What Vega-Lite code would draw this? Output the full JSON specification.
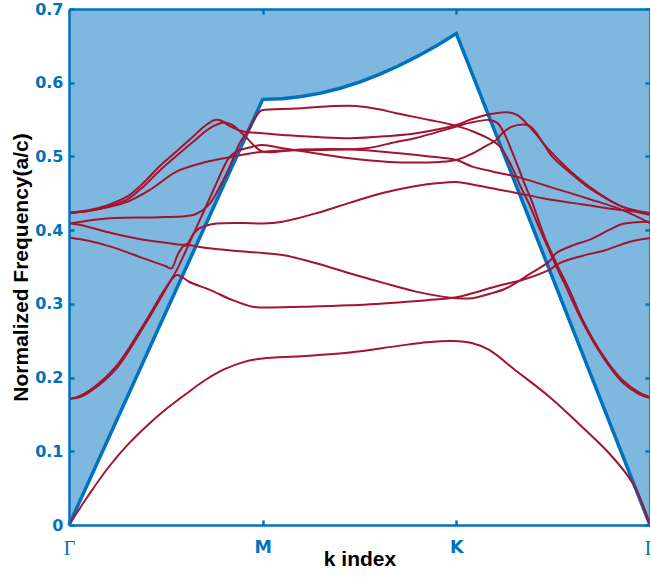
{
  "$schema": "https://vega.github.io/schema/vega-lite/v6.json",
  "width": 581,
  "height": 516,
  "autosize": {"type": "none"},
  "padding": {"left": 69, "top": 9, "right": 0, "bottom": 52},
  "background": "white",
  "config": {"view": {"stroke": null}},
  "datasets": {
    "lightline": [
      {"k": 0, "freq": 0}, {"k": 1, "freq": 0.5774}, {"k": 1.1, "freq": 0.5783}, {"k": 1.2, "freq": 0.5812},
      {"k": 1.3, "freq": 0.5859}, {"k": 1.4, "freq": 0.5925}, {"k": 1.5, "freq": 0.6009}, {"k": 1.6, "freq": 0.611},
      {"k": 1.7, "freq": 0.6227}, {"k": 1.8, "freq": 0.636}, {"k": 1.9, "freq": 0.6506}, {"k": 2, "freq": 0.6667},
      {"k": 3, "freq": 0}
    ],
    "bands": [
      {"band": "A", "k": 0, "freq": 0}, {"band": "A", "k": 0.1, "freq": 0.04}, {"band": "A", "k": 0.2, "freq": 0.077}, {"band": "A", "k": 0.3, "freq": 0.108}, {"band": "A", "k": 0.4, "freq": 0.134}, {"band": "A", "k": 0.5, "freq": 0.157}, {"band": "A", "k": 0.6, "freq": 0.177}, {"band": "A", "k": 0.7, "freq": 0.196}, {"band": "A", "k": 0.8, "freq": 0.211}, {"band": "A", "k": 0.9, "freq": 0.221}, {"band": "A", "k": 1, "freq": 0.226}, {"band": "A", "k": 1.2, "freq": 0.229}, {"band": "A", "k": 1.45, "freq": 0.234}, {"band": "A", "k": 1.7, "freq": 0.243}, {"band": "A", "k": 1.85, "freq": 0.248}, {"band": "A", "k": 1.98, "freq": 0.2497}, {"band": "A", "k": 2.08, "freq": 0.247}, {"band": "A", "k": 2.17, "freq": 0.2375}, {"band": "A", "k": 2.3, "freq": 0.211}, {"band": "A", "k": 2.48, "freq": 0.174}, {"band": "A", "k": 2.65, "freq": 0.133}, {"band": "A", "k": 2.79, "freq": 0.097}, {"band": "A", "k": 2.91, "freq": 0.057}, {"band": "A", "k": 3, "freq": 0},

      {"band": "B", "k": 0, "freq": 0.171}, {"band": "B", "k": 0.06, "freq": 0.174}, {"band": "B", "k": 0.125, "freq": 0.184}, {"band": "B", "k": 0.247, "freq": 0.213}, {"band": "B", "k": 0.383, "freq": 0.268}, {"band": "B", "k": 0.485, "freq": 0.313}, {"band": "B", "k": 0.53, "freq": 0.333}, {"band": "B", "k": 0.555, "freq": 0.339}, {"band": "B", "k": 0.58, "freq": 0.337}, {"band": "B", "k": 0.62, "freq": 0.33}, {"band": "B", "k": 0.727, "freq": 0.319}, {"band": "B", "k": 0.845, "freq": 0.305}, {"band": "B", "k": 0.948, "freq": 0.296}, {"band": "B", "k": 1, "freq": 0.295}, {"band": "B", "k": 1.2, "freq": 0.296}, {"band": "B", "k": 1.448, "freq": 0.298}, {"band": "B", "k": 1.7, "freq": 0.302}, {"band": "B", "k": 1.85, "freq": 0.305}, {"band": "B", "k": 2, "freq": 0.309}, {"band": "B", "k": 2.082, "freq": 0.3144}, {"band": "B", "k": 2.222, "freq": 0.325}, {"band": "B", "k": 2.34, "freq": 0.3324}, {"band": "B", "k": 2.479, "freq": 0.346}, {"band": "B", "k": 2.531, "freq": 0.355}, {"band": "B", "k": 2.649, "freq": 0.365}, {"band": "B", "k": 2.773, "freq": 0.3731}, {"band": "B", "k": 2.892, "freq": 0.384}, {"band": "B", "k": 3, "freq": 0.3894},

      {"band": "C", "k": 0, "freq": 0.39}, {"band": "C", "k": 0.1, "freq": 0.3855}, {"band": "C", "k": 0.211, "freq": 0.378}, {"band": "C", "k": 0.383, "freq": 0.362}, {"band": "C", "k": 0.5, "freq": 0.351}, {"band": "C", "k": 0.529, "freq": 0.348}, {"band": "C", "k": 0.56, "freq": 0.366}, {"band": "C", "k": 0.59, "freq": 0.378}, {"band": "C", "k": 0.62, "freq": 0.3795}, {"band": "C", "k": 0.7, "freq": 0.376}, {"band": "C", "k": 0.85, "freq": 0.372}, {"band": "C", "k": 1, "freq": 0.369}, {"band": "C", "k": 1.103, "freq": 0.3663}, {"band": "C", "k": 1.277, "freq": 0.3551}, {"band": "C", "k": 1.448, "freq": 0.3415}, {"band": "C", "k": 1.619, "freq": 0.3288}, {"band": "C", "k": 1.792, "freq": 0.3166}, {"band": "C", "k": 1.928, "freq": 0.3098}, {"band": "C", "k": 2, "freq": 0.3076}, {"band": "C", "k": 2.082, "freq": 0.3076}, {"band": "C", "k": 2.17, "freq": 0.3134}, {"band": "C", "k": 2.258, "freq": 0.3212}, {"band": "C", "k": 2.376, "freq": 0.3399}, {"band": "C", "k": 2.479, "freq": 0.3573}, {"band": "C", "k": 2.515, "freq": 0.3687}, {"band": "C", "k": 2.608, "freq": 0.38}, {"band": "C", "k": 2.686, "freq": 0.3867}, {"band": "C", "k": 2.789, "freq": 0.4003}, {"band": "C", "k": 2.856, "freq": 0.4084}, {"band": "C", "k": 3, "freq": 0.4115},

      {"band": "D", "k": 0, "freq": 0.409}, {"band": "D", "k": 0.06, "freq": 0.407}, {"band": "D", "k": 0.125, "freq": 0.4026}, {"band": "D", "k": 0.25, "freq": 0.394}, {"band": "D", "k": 0.383, "freq": 0.387}, {"band": "D", "k": 0.5, "freq": 0.383}, {"band": "D", "k": 0.607, "freq": 0.381}, {"band": "D", "k": 0.64, "freq": 0.394}, {"band": "D", "k": 0.67, "freq": 0.402}, {"band": "D", "k": 0.7, "freq": 0.4055}, {"band": "D", "k": 0.761, "freq": 0.409}, {"band": "D", "k": 0.9, "freq": 0.4098}, {"band": "D", "k": 1, "freq": 0.409}, {"band": "D", "k": 1.103, "freq": 0.4115}, {"band": "D", "k": 1.277, "freq": 0.4229}, {"band": "D", "k": 1.448, "freq": 0.437}, {"band": "D", "k": 1.619, "freq": 0.4505}, {"band": "D", "k": 1.792, "freq": 0.46}, {"band": "D", "k": 1.912, "freq": 0.464}, {"band": "D", "k": 2, "freq": 0.4654}, {"band": "D", "k": 2.082, "freq": 0.462}, {"band": "D", "k": 2.309, "freq": 0.4505}, {"band": "D", "k": 2.454, "freq": 0.443}, {"band": "D", "k": 2.598, "freq": 0.437}, {"band": "D", "k": 2.789, "freq": 0.4294}, {"band": "D", "k": 3, "freq": 0.4233},

      {"band": "E", "k": 0, "freq": 0.409}, {"band": "E", "k": 0.211, "freq": 0.4162}, {"band": "E", "k": 0.469, "freq": 0.4175}, {"band": "E", "k": 0.6, "freq": 0.419}, {"band": "E", "k": 0.641, "freq": 0.4206}, {"band": "E", "k": 0.67, "freq": 0.424}, {"band": "E", "k": 0.692, "freq": 0.4274}, {"band": "E", "k": 0.73, "freq": 0.437}, {"band": "E", "k": 0.761, "freq": 0.45}, {"band": "E", "k": 0.8, "freq": 0.47}, {"band": "E", "k": 0.83, "freq": 0.4862}, {"band": "E", "k": 0.881, "freq": 0.5179}, {"band": "E", "k": 0.916, "freq": 0.5315}, {"band": "E", "k": 0.95, "freq": 0.547}, {"band": "E", "k": 0.985, "freq": 0.561}, {"band": "E", "k": 1, "freq": 0.563}, {"band": "E", "k": 1.174, "freq": 0.565}, {"band": "E", "k": 1.345, "freq": 0.568}, {"band": "E", "k": 1.483, "freq": 0.5685}, {"band": "E", "k": 1.6, "freq": 0.564}, {"band": "E", "k": 1.689, "freq": 0.5586}, {"band": "E", "k": 1.861, "freq": 0.5495}, {"band": "E", "k": 2, "freq": 0.5414}, {"band": "E", "k": 2.093, "freq": 0.5332}, {"band": "E", "k": 2.17, "freq": 0.5237}, {"band": "E", "k": 2.222, "freq": 0.5142}, {"band": "E", "k": 2.263, "freq": 0.498}, {"band": "E", "k": 2.299, "freq": 0.479}, {"band": "E", "k": 2.335, "freq": 0.4573}, {"band": "E", "k": 2.376, "freq": 0.4355}, {"band": "E", "k": 2.428, "freq": 0.403}, {"band": "E", "k": 2.479, "freq": 0.3731}, {"band": "E", "k": 2.515, "freq": 0.3514}, {"band": "E", "k": 2.557, "freq": 0.3284}, {"band": "E", "k": 2.649, "freq": 0.2768}, {"band": "E", "k": 2.753, "freq": 0.2293}, {"band": "E", "k": 2.856, "freq": 0.194}, {"band": "E", "k": 2.943, "freq": 0.1777}, {"band": "E", "k": 3, "freq": 0.1723},

      {"band": "F", "k": 0, "freq": 0.4237}, {"band": "F", "k": 0.1, "freq": 0.427}, {"band": "F", "k": 0.2, "freq": 0.434}, {"band": "F", "k": 0.297, "freq": 0.445}, {"band": "F", "k": 0.38, "freq": 0.463}, {"band": "F", "k": 0.469, "freq": 0.487}, {"band": "F", "k": 0.56, "freq": 0.508}, {"band": "F", "k": 0.641, "freq": 0.527}, {"band": "F", "k": 0.7, "freq": 0.541}, {"band": "F", "k": 0.753, "freq": 0.5495}, {"band": "F", "k": 0.79, "freq": 0.548}, {"band": "F", "k": 0.83, "freq": 0.541}, {"band": "F", "k": 0.899, "freq": 0.5337}, {"band": "F", "k": 1, "freq": 0.5315}, {"band": "F", "k": 1.103, "freq": 0.5292}, {"band": "F", "k": 1.448, "freq": 0.5247}, {"band": "F", "k": 1.655, "freq": 0.5278}, {"band": "F", "k": 1.792, "freq": 0.5315}, {"band": "F", "k": 2, "freq": 0.5427}, {"band": "F", "k": 2.067, "freq": 0.5495}, {"band": "F", "k": 2.155, "freq": 0.5563}, {"band": "F", "k": 2.258, "freq": 0.56}, {"band": "F", "k": 2.314, "freq": 0.5563}, {"band": "F", "k": 2.402, "freq": 0.5332}, {"band": "F", "k": 2.479, "freq": 0.5088}, {"band": "F", "k": 2.582, "freq": 0.4817}, {"band": "F", "k": 2.686, "freq": 0.459}, {"band": "F", "k": 2.789, "freq": 0.441}, {"band": "F", "k": 2.856, "freq": 0.4319}, {"band": "F", "k": 3, "freq": 0.4229},

      {"band": "G", "k": 0, "freq": 0.171}, {"band": "G", "k": 0.06, "freq": 0.1755}, {"band": "G", "k": 0.125, "freq": 0.186}, {"band": "G", "k": 0.247, "freq": 0.2165}, {"band": "G", "k": 0.383, "freq": 0.271}, {"band": "G", "k": 0.485, "freq": 0.316}, {"band": "G", "k": 0.546, "freq": 0.341}, {"band": "G", "k": 0.6, "freq": 0.37}, {"band": "G", "k": 0.65, "freq": 0.399}, {"band": "G", "k": 0.7, "freq": 0.428}, {"band": "G", "k": 0.75, "freq": 0.457}, {"band": "G", "k": 0.8, "freq": 0.486}, {"band": "G", "k": 0.825, "freq": 0.498}, {"band": "G", "k": 0.86, "freq": 0.506}, {"band": "G", "k": 0.93, "freq": 0.512}, {"band": "G", "k": 1, "freq": 0.5156}, {"band": "G", "k": 1.103, "freq": 0.5111}, {"band": "G", "k": 1.277, "freq": 0.5041}, {"band": "G", "k": 1.448, "freq": 0.4975}, {"band": "G", "k": 1.655, "freq": 0.4925}, {"band": "G", "k": 1.792, "freq": 0.4916}, {"band": "G", "k": 1.912, "freq": 0.4925}, {"band": "G", "k": 2, "freq": 0.4952}, {"band": "G", "k": 2.067, "freq": 0.502}, {"band": "G", "k": 2.144, "freq": 0.5129}, {"band": "G", "k": 2.206, "freq": 0.5224}, {"band": "G", "k": 2.237, "freq": 0.5315}, {"band": "G", "k": 2.284, "freq": 0.54}, {"band": "G", "k": 2.351, "freq": 0.5434}, {"band": "G", "k": 2.387, "freq": 0.54}, {"band": "G", "k": 2.454, "freq": 0.5156}, {"band": "G", "k": 2.495, "freq": 0.4997}, {"band": "G", "k": 2.608, "freq": 0.4735}, {"band": "G", "k": 2.701, "freq": 0.4545}, {"band": "G", "k": 2.876, "freq": 0.4297}, {"band": "G", "k": 3, "freq": 0.4206},

      {"band": "H", "k": 0, "freq": 0.4237}, {"band": "H", "k": 0.1, "freq": 0.426}, {"band": "H", "k": 0.2, "freq": 0.431}, {"band": "H", "k": 0.297, "freq": 0.438}, {"band": "H", "k": 0.42, "freq": 0.455}, {"band": "H", "k": 0.555, "freq": 0.4794}, {"band": "H", "k": 0.7, "freq": 0.492}, {"band": "H", "k": 0.845, "freq": 0.4997}, {"band": "H", "k": 1, "freq": 0.5065}, {"band": "H", "k": 1.277, "freq": 0.5088}, {"band": "H", "k": 1.535, "freq": 0.5111}, {"band": "H", "k": 1.689, "freq": 0.5197}, {"band": "H", "k": 1.792, "freq": 0.5251}, {"band": "H", "k": 2, "freq": 0.5404}, {"band": "H", "k": 2.067, "freq": 0.5455}, {"band": "H", "k": 2.17, "freq": 0.5495}, {"band": "H", "k": 2.211, "freq": 0.5455}, {"band": "H", "k": 2.247, "freq": 0.5315}, {"band": "H", "k": 2.284, "freq": 0.5088}, {"band": "H", "k": 2.325, "freq": 0.4817}, {"band": "H", "k": 2.361, "freq": 0.4573}, {"band": "H", "k": 2.387, "freq": 0.441}, {"band": "H", "k": 2.454, "freq": 0.392}, {"band": "H", "k": 2.515, "freq": 0.356}, {"band": "H", "k": 2.582, "freq": 0.32}, {"band": "H", "k": 2.649, "freq": 0.28}, {"band": "H", "k": 2.753, "freq": 0.232}, {"band": "H", "k": 2.856, "freq": 0.197}, {"band": "H", "k": 2.943, "freq": 0.18}, {"band": "H", "k": 3, "freq": 0.1737},

      {"band": "I", "k": 0, "freq": 0.423}, {"band": "I", "k": 0.1, "freq": 0.426}, {"band": "I", "k": 0.2, "freq": 0.432}, {"band": "I", "k": 0.297, "freq": 0.441}, {"band": "I", "k": 0.38, "freq": 0.458}, {"band": "I", "k": 0.469, "freq": 0.481}, {"band": "I", "k": 0.56, "freq": 0.502}, {"band": "I", "k": 0.641, "freq": 0.52}, {"band": "I", "k": 0.72, "freq": 0.537}, {"band": "I", "k": 0.78, "freq": 0.545}, {"band": "I", "k": 0.804, "freq": 0.546}, {"band": "I", "k": 0.84, "freq": 0.543}, {"band": "I", "k": 0.866, "freq": 0.538}, {"band": "I", "k": 0.918, "freq": 0.525}, {"band": "I", "k": 0.959, "freq": 0.514}, {"band": "I", "k": 1, "freq": 0.5065}, {"band": "I", "k": 1.191, "freq": 0.5095}, {"band": "I", "k": 1.448, "freq": 0.5098}, {"band": "I", "k": 1.706, "freq": 0.5043}, {"band": "I", "k": 1.861, "freq": 0.5}, {"band": "I", "k": 2, "freq": 0.4952}, {"band": "I", "k": 2.082, "freq": 0.4862}, {"band": "I", "k": 2.196, "freq": 0.479}, {"band": "I", "k": 2.309, "freq": 0.4726}, {"band": "I", "k": 2.479, "freq": 0.459}, {"band": "I", "k": 2.686, "freq": 0.4423}, {"band": "I", "k": 2.856, "freq": 0.4274}, {"band": "I", "k": 3, "freq": 0.4094}
    ]
  },
  "layer": [
    {
      "data": {"name": "lightline"},
      "mark": {"type": "area", "color": "#7FB8DE", "opacity": 1},
      "encoding": {
        "x": {
          "field": "k", "type": "quantitative",
          "scale": {"domain": [0, 3], "nice": false, "zero": false},
          "axis": {
            "orient": "bottom", "values": [0, 1, 2, 3],
            "labelExpr": "datum.value == 1 ? 'M' : datum.value == 2 ? 'K' : 'Γ'",
            "labelFlush": false, "labelOverlap": false, "grid": false, "zindex": 1,
            "domainColor": "#0072BD", "domainWidth": 2.5,
            "tickColor": "#0072BD", "tickWidth": 2.5, "tickSize": -5,
            "labelColor": "#0072BD", "labelPadding": 18, "labelBaseline": "top",
            "labelFont": {"condition": {"test": "datum.value == 0 || datum.value == 3", "value": "Liberation Serif"}, "value": "DejaVu Sans"},
            "labelFontWeight": {"condition": {"test": "datum.value == 0 || datum.value == 3", "value": "normal"}, "value": "bold"},
            "labelFontSize": {"condition": {"test": "datum.value == 0 || datum.value == 3", "value": 20}, "value": 17.5},
            "title": "k index", "titleFont": "Liberation Sans", "titleFontWeight": "bold", "titleFontSize": 21,
            "titleColor": "#000000", "titleBaseline": "alphabetic", "titleY": 40
          }
        },
        "y": {
          "field": "freq", "type": "quantitative",
          "scale": {"domain": [0, 0.7], "nice": false, "zero": false},
          "axis": {
            "orient": "left", "values": [0, 0.1, 0.2, 0.3, 0.4, 0.5, 0.6, 0.7], "format": ".1~f",
            "grid": false, "zindex": 1,
            "domainColor": "#0072BD", "domainWidth": 2.5,
            "tickColor": "#0072BD", "tickWidth": 2.5, "tickSize": -5,
            "labelColor": "#0072BD", "labelFont": "DejaVu Sans", "labelFontWeight": "bold", "labelFontSize": 16,
            "labelPadding": 11,
            "title": "Normalized Frequency(a/c)", "titleFont": "Liberation Sans", "titleFontWeight": "bold",
            "titleFontSize": 21, "titleColor": "#000000", "titleBaseline": "alphabetic", "titleX": -41.5
          }
        },
        "y2": {"datum": 0.7}
      }
    },
    {
      "data": {"name": "lightline"},
      "mark": {"type": "line", "color": "#0072BD", "strokeWidth": 3.5},
      "encoding": {
        "x": {
          "field": "k", "type": "quantitative",
          "axis": {
            "orient": "top", "values": [1, 2], "labels": false, "title": null, "grid": false, "zindex": 1,
            "domainColor": "#0072BD", "domainWidth": 2.5,
            "tickColor": "#0072BD", "tickWidth": 2.5, "tickSize": -5
          }
        },
        "y": {
          "field": "freq", "type": "quantitative",
          "axis": {
            "orient": "right", "values": [0, 0.1, 0.2, 0.3, 0.4, 0.5, 0.6, 0.7], "labels": false, "title": null,
            "grid": false, "zindex": 1,
            "domainColor": "#0072BD", "domainWidth": 2.5,
            "tickColor": "#0072BD", "tickWidth": 2.5, "tickSize": -5
          }
        }
      }
    },
    {
      "data": {"name": "bands"},
      "mark": {"type": "line", "color": "#A2142F", "strokeWidth": 2, "interpolate": "catmull-rom"},
      "encoding": {
        "x": {"field": "k", "type": "quantitative", "axis": null},
        "y": {"field": "freq", "type": "quantitative", "axis": null},
        "detail": {"field": "band"}
      }
    }
  ],
  "resolve": {"axis": {"x": "independent", "y": "independent"}}
}
